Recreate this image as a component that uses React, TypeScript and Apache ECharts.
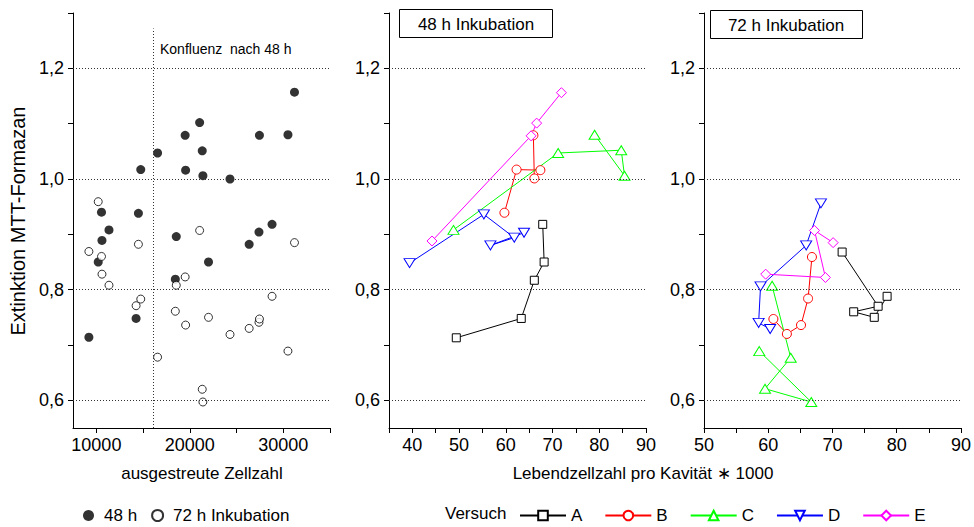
import React, { useEffect, useRef } from "react";
import * as echarts from "echarts";

// ---------- data ----------
// left panel: seeded cell number vs MTT extinction
const seedCount = [9200, 10200, 10550, 10600, 11350, 14250, 14500, 14750, 16550, 18450, 18550, 19500,
  19550, 21050, 21330, 21400, 22000, 24300, 26350, 27400, 27450, 28800, 30500, 31200];
const ext48 = [0.714, 0.850, 0.940, 0.889, 0.908, 0.748, 0.938, 1.017, 1.047, 0.819, 0.896, 1.079,
  1.016, 1.102, 1.051, 1.006, 0.850, 1.000, 0.882, 0.904, 1.079, 0.918, 1.080, 1.157];
const ext72 = [0.869, 0.959, 0.860, 0.828, 0.808, 0.771, 0.882, 0.783, 0.678, 0.761, 0.808, 0.823,
  0.736, 0.907, 0.620, 0.597, 0.750, 0.719, 0.730, 0.741, 0.747, 0.788, 0.689, 0.885];
const confluenceAt = 16100;

// middle panel: 48 h incubation, [living cells *1000, extinction]
const a48 = [[49.4, 0.713], [63.3, 0.748], [66.1, 0.817], [68.2, 0.850], [67.9, 0.918]];
const b48 = [[59.7, 0.939], [62.3, 1.017], [67.4, 1.016], [66.1, 1.001], [65.9, 1.079]];
const c48 = [[48.8, 0.908], [71.2, 1.047], [84.7, 1.052], [85.4, 1.006], [79.0, 1.080]];
const d48 = [[39.4, 0.848], [55.3, 0.936], [61.8, 0.894], [56.7, 0.880], [63.9, 0.903]];
const e48 = [[44.2, 0.888], [65.4, 1.078], [66.6, 1.101], [71.9, 1.156]];

// right panel: 72 h incubation
const a72 = [[71.5, 0.868], [77.1, 0.770], [73.3, 0.760], [76.5, 0.750], [78.5, 0.788]];
const b72 = [[60.8, 0.747], [62.9, 0.720], [65.1, 0.736], [66.2, 0.784], [66.8, 0.859]];
const c72 = [[60.6, 0.807], [63.5, 0.677], [59.5, 0.621], [66.7, 0.597], [58.6, 0.689]];
const d72 = [[68.2, 0.956], [65.9, 0.880], [58.8, 0.806], [58.5, 0.740], [60.3, 0.729]];
const e72 = [[70.1, 0.885], [67.2, 0.907], [68.9, 0.822], [59.6, 0.828]];

const yTicks = [0.6, 0.7, 0.8, 0.9, 1.0, 1.1, 1.2, 1.3];
const yLabels = [0.6, 0.8, 1.0, 1.2];
const leftXTicks = [10000, 15000, 20000, 25000, 30000, 35000];
const leftXLabels = [10000, 20000, 30000];
const midXTicks = [35, 40, 45, 50, 55, 60, 65, 70, 75, 80, 85, 90];
const rightXTicks = [50, 55, 60, 65, 70, 75, 80, 85, 90];
const xLabelsLiving = [40, 50, 60, 70, 80, 90];

const versuche = ["A", "B", "C", "D", "E"];

const FONT = "Liberation Sans, Arial, sans-serif";

export default function App() {
  const ref = useRef<HTMLDivElement>(null);

  useEffect(() => {
    if (!ref.current) return;
    const chart = echarts.init(ref.current, null, { renderer: "svg" });

    const axisLine = { show: true, onZero: false, lineStyle: { color: "#000", width: 1 } };
    const labelStyle = { color: "#000", fontSize: 18, fontFamily: FONT };
    const yAxisBase = (gi: number) => ({
      type: "value",
      gridIndex: gi,
      min: 0.55,
      max: 1.3,
      axisLine,
      axisTick: { show: true, length: 5, customValues: yTicks, lineStyle: { color: "#000" } },
      axisLabel: {
        ...labelStyle,
        margin: 9,
        customValues: yLabels,
        formatter: (v: number) => v.toFixed(1).replace(".", ","),
      },
      splitLine: { show: false },
    });
    const xAxisBase = (gi: number, min: number, max: number, ticks: number[], labels: number[]) => ({
      type: "value",
      gridIndex: gi,
      min,
      max,
      axisLine,
      axisTick: { show: true, length: 5, customValues: ticks, lineStyle: { color: "#000" } },
      axisLabel: { ...labelStyle, margin: 8, customValues: labels, formatter: (v: number) => String(v) },
      splitLine: { show: false },
    });

    const gridMark = {
      silent: true,
      symbol: ["none", "none"],
      label: { show: false },
      lineStyle: { color: "#333", width: 1, type: [1, 2] },
      data: yLabels.map((v) => ({ yAxis: v })),
    };

    const colors: Record<string, string> = { A: "#000000", B: "#ff0000", C: "#00ff00", D: "#0000ff", E: "#ff00ff" };
    const symbols: Record<string, string> = { A: "rect", B: "circle", C: "triangle", D: "triangle", E: "diamond" };
    const sizes: Record<string, number | number[]> = { A: 8, B: 9, C: [11, 9], D: [11, 9], E: [10, 10] };
    const rot: Record<string, number> = { A: 0, B: 0, C: 0, D: 180, E: 0 };

    const lineSeries = (name: string, data: number[][], gi: number, withGrid: boolean) => ({
      name,
      type: "line",
      xAxisIndex: gi,
      yAxisIndex: gi,
      data,
      symbol: symbols[name],
      symbolSize: sizes[name],
      symbolRotate: rot[name],
      showAllSymbol: true,
      color: colors[name],
      lineStyle: { color: colors[name], width: 1 },
      itemStyle: { color: "#ffffff", borderColor: colors[name], borderWidth: 1 },
      z: 3,
      markLine: withGrid ? gridMark : undefined,
    });

    const mid: Record<string, number[][]> = { A: a48, B: b48, C: c48, D: d48, E: e48 };
    const right: Record<string, number[][]> = { A: a72, B: b72, C: c72, D: d72, E: e72 };

    const txt = (text: string, x: number, y: number, fontSize: number, align = "center", rotation = 0) => ({
      type: "text",
      x,
      y,
      rotation,
      style: { text, fontSize, fontFamily: FONT, fill: "#000", align, verticalAlign: "middle" },
    });

    const option: any = {
      animation: false,
      backgroundColor: "#ffffff",
      textStyle: { fontFamily: FONT },
      grid: [
        { left: 73, top: 13, width: 257, height: 415 },
        { left: 389, top: 13, width: 257, height: 415 },
        { left: 704, top: 13, width: 257, height: 415 },
      ],
      xAxis: [
        xAxisBase(0, 7500, 35000, leftXTicks, leftXLabels),
        xAxisBase(1, 35, 90, midXTicks, xLabelsLiving),
        xAxisBase(2, 50, 90, rightXTicks, xLabelsLiving.filter((v) => v >= 50)),
      ],
      yAxis: [yAxisBase(0), yAxisBase(1), yAxisBase(2)],
      legend: [
        {
          left: 78,
          top: 502,
          itemWidth: 11,
          itemHeight: 11,
          itemGap: 14,
          textStyle: { ...labelStyle, fontSize: 17, padding: [0, 0, 0, 5] },
          data: ["48 h", "72 h Inkubation"],
          selectedMode: false,
        },
        {
          left: 514,
          top: 502,
          itemWidth: 46,
          itemHeight: 12,
          itemGap: 22,
          textStyle: { ...labelStyle, fontSize: 17 },
          data: versuche,
          selectedMode: false,
        },
      ],
      graphic: [
        txt("Extinktion MTT-Formazan", 18, 221, 20, "center", Math.PI / 2),
        txt("ausgestreute Zellzahl", 202, 473, 17),
        txt("Lebendzellzahl pro Kavität \u2217 1000", 643, 473, 17),
        txt("Konfluenz\u00a0 nach 48 h", 160, 49, 14, "left"),
        txt("Versuch", 445, 513, 17, "left"),
        {
          type: "group",
          children: [
            { type: "rect", shape: { x: 399.5, y: 9.5, width: 153, height: 28 }, style: { fill: "#fff", stroke: "#000", lineWidth: 1 } },
            txt("48 h Inkubation", 476, 24, 17),
          ],
        },
        {
          type: "group",
          children: [
            { type: "rect", shape: { x: 710.5, y: 10.5, width: 152, height: 28 }, style: { fill: "#fff", stroke: "#000", lineWidth: 1 } },
            txt("72 h Inkubation", 786, 25, 17),
          ],
        },
      ],
      series: [
        {
          name: "48 h",
          type: "scatter",
          xAxisIndex: 0,
          yAxisIndex: 0,
          symbol: "circle",
          symbolSize: 9,
          itemStyle: { color: "#000" },
          data: seedCount.map((x, i) => [x, ext48[i]]),
          z: 4,
          markLine: {
            silent: true,
            symbol: ["none", "none"],
            label: { show: false },
            lineStyle: { color: "#333", width: 1, type: [1, 2] },
            data: [
              ...yLabels.map((v) => ({ yAxis: v })),
              [{ coord: [confluenceAt, 0.55] }, { coord: [confluenceAt, 1.272] }],
            ],
          },
        },
        {
          name: "72 h Inkubation",
          type: "scatter",
          xAxisIndex: 0,
          yAxisIndex: 0,
          symbol: "circle",
          symbolSize: 8,
          itemStyle: { color: "#fff", borderColor: "#000", borderWidth: 1 },
          data: seedCount.map((x, i) => [x, ext72[i]]),
          z: 4,
        },
        ...versuche.map((n, i) => lineSeries(n, mid[n], 1, i === 0)),
        ...versuche.map((n, i) => lineSeries(n, right[n], 2, i === 0)),
      ],
    };

    chart.setOption(option);
    return () => chart.dispose();
  }, []);

  return <div ref={ref} style={{ width: 974, height: 527, position: "absolute", left: 0, top: 0 }} />;
}
